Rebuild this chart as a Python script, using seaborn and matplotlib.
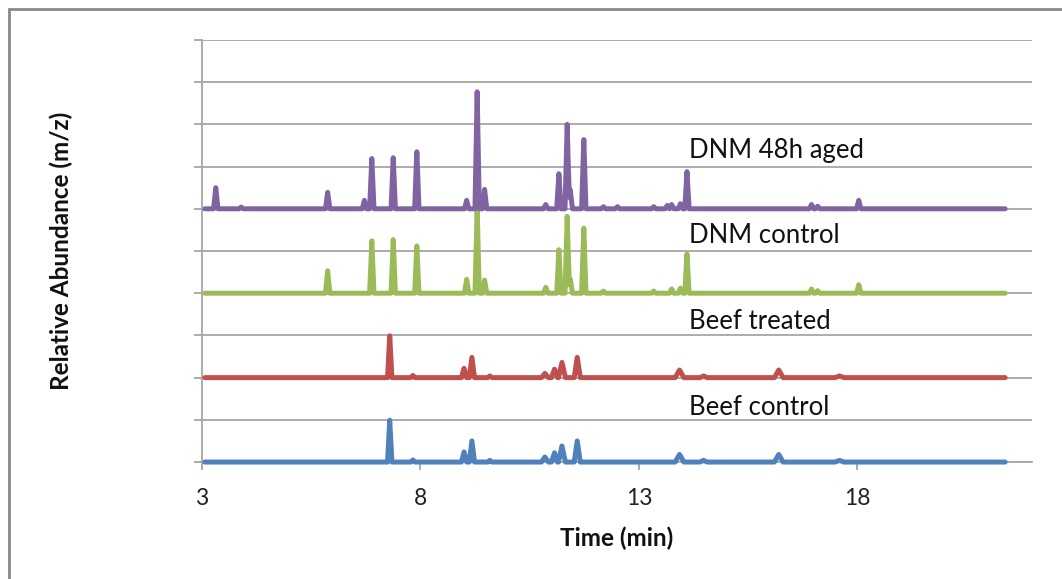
import numpy as np
import pandas as pd
import matplotlib
matplotlib.use("Agg")
import matplotlib.pyplot as plt
import seaborn as sns
from matplotlib.patches import Rectangle

# ---------------- data ----------------
series_names = ["Beef control", "Beef treated", "DNM control", "DNM 48h aged"]
baselines = [0, 2, 4, 6]
t_start, t_end = 3.07, 21.38

beef_control_times = [7.30, 7.83, 9.00, 9.18, 9.59, 10.85, 11.07, 11.24, 11.59, 13.93, 14.48, 16.20, 17.59]
beef_control_heights = [0.99, 0.05, 0.24, 0.50, 0.04, 0.12, 0.22, 0.38, 0.50, 0.18, 0.04, 0.18, 0.04]
beef_control_widths = [0.05, 0.05, 0.06, 0.06, 0.05, 0.08, 0.07, 0.08, 0.07, 0.10, 0.08, 0.10, 0.10]

beef_treated_times = [7.30, 7.83, 9.00, 9.18, 9.59, 10.85, 11.07, 11.24, 11.59, 13.93, 14.48, 16.20, 17.59]
beef_treated_heights = [0.99, 0.05, 0.22, 0.48, 0.04, 0.10, 0.20, 0.36, 0.48, 0.18, 0.04, 0.18, 0.04]
beef_treated_widths = [0.05, 0.05, 0.06, 0.06, 0.05, 0.08, 0.07, 0.08, 0.07, 0.10, 0.08, 0.10, 0.10]

dnm_control_times = [5.88, 6.89, 7.38, 7.92, 9.06, 9.30, 9.47, 10.87, 11.17, 11.36, 11.43, 11.74,
                     12.19, 13.34, 13.75, 13.95, 14.10, 16.95, 17.09, 18.03]
dnm_control_heights = [0.53, 1.24, 1.27, 1.12, 0.33, 2.00, 0.31, 0.14, 1.03, 1.82, 0.33, 1.54,
                       0.05, 0.05, 0.10, 0.12, 0.93, 0.10, 0.06, 0.20]
dnm_control_widths = [0.05] * len(dnm_control_times)

dnm_aged_times = [3.32, 3.90, 5.88, 6.72, 6.89, 7.38, 7.92, 9.06, 9.30, 9.47, 10.87, 11.17, 11.36, 11.43,
                  11.74, 12.19, 12.51, 13.34, 13.65, 13.75, 13.95, 14.10, 16.95, 17.09, 18.03]
dnm_aged_heights = [0.50, 0.04, 0.39, 0.20, 1.19, 1.21, 1.35, 0.20, 2.77, 0.46, 0.10, 0.83, 2.00, 0.45,
                    1.64, 0.05, 0.05, 0.05, 0.08, 0.10, 0.12, 0.88, 0.10, 0.06, 0.20]
dnm_aged_widths = [0.05] * len(dnm_aged_times)

colors = ["#4F81BD", "#C0504D", "#9BBB59", "#8064A2"]
label_pos_y = [1.30, 3.32, 5.36, 7.37]
label_x = 14.14

x_ticks = [3, 8, 13, 18]

# ---------------- build traces ----------------
peaks = [
    (beef_control_times, beef_control_heights, beef_control_widths),
    (beef_treated_times, beef_treated_heights, beef_treated_widths),
    (dnm_control_times, dnm_control_heights, dnm_control_widths),
    (dnm_aged_times, dnm_aged_heights, dnm_aged_widths),
]

frames = []
for name, base, (ts, hs, ws) in zip(series_names, baselines, peaks):
    knots = [t_start, t_end]
    for t, w in zip(ts, ws):
        knots += [t - w, t, t + w]
    x = np.array(sorted(set(knots)))
    y = np.zeros_like(x)
    for t, h, w in zip(ts, hs, ws):
        y += h * np.clip(1 - np.abs(x - t) / w, 0, None)
    frames.append(pd.DataFrame({"time": x, "abund": y + base, "series": name}))
df = pd.concat(frames, ignore_index=True)

# ---------------- plot ----------------
sns.set_theme(style="white")
plt.rcParams["font.family"] = ["Lato", "DejaVu Sans"]

fig = plt.figure(figsize=(10.62, 5.79), dpi=100)
ax = fig.add_axes([0.190, 0.202, 0.782, 0.729])

for name, col in zip(series_names, colors):
    sns.lineplot(data=df[df["series"] == name], x="time", y="abund", color=col,
                 lw=3.6, ax=ax, sort=False, estimator=None, legend=False,
                 solid_joinstyle="round", solid_capstyle="round", clip_on=False, zorder=3)

ax.set_xlim(3, 22)
ax.set_ylim(0, 10)
ax.set_xticks(x_ticks)
ax.set_xticklabels([str(v) for v in x_ticks])
ax.set_yticks(np.arange(0, 11, 1))
ax.set_yticklabels([])
ax.grid(axis="y", color="#A6A6A6", lw=1.3)
ax.grid(axis="x", visible=False)
ax.set_axisbelow(True)

for s in ["top", "right"]:
    ax.spines[s].set_visible(False)
for s in ["left", "bottom"]:
    ax.spines[s].set_color("#A6A6A6")
    ax.spines[s].set_linewidth(1.3)

ax.tick_params(axis="y", which="major", left=True, length=6, width=1.3, color="#A6A6A6", direction="out")
ax.tick_params(axis="x", which="major", bottom=True, length=6, width=1.3, color="#A6A6A6",
               direction="out", labelsize=16.5, pad=13, labelcolor="#222222")

ax.set_xlabel("Time (min)", fontsize=17.5, fontweight="bold", color="#111111")
ax.xaxis.set_label_coords((617 - 202) / 830, -(538 - 462) / 422)
ax.xaxis.label.set_va("center")
ax.set_ylabel("Relative Abundance (m/z)", fontsize=17.5, fontweight="bold", color="#111111")
ax.yaxis.set_label_coords(-(202 - 62) / 830, (462 - 251) / 422)
ax.yaxis.label.set_va("center")

for name, yy in zip(series_names, label_pos_y):
    ax.text(label_x, yy, name, fontsize=18.5, ha="left", va="center", color="#111111")

fig.patches.append(Rectangle((9 / 1062, -0.1), 1.2, 1 - 9 / 579 + 0.1, transform=fig.transFigure,
                             fill=False, edgecolor="#888888", lw=2))

fig.savefig("out.png", dpi=100)
